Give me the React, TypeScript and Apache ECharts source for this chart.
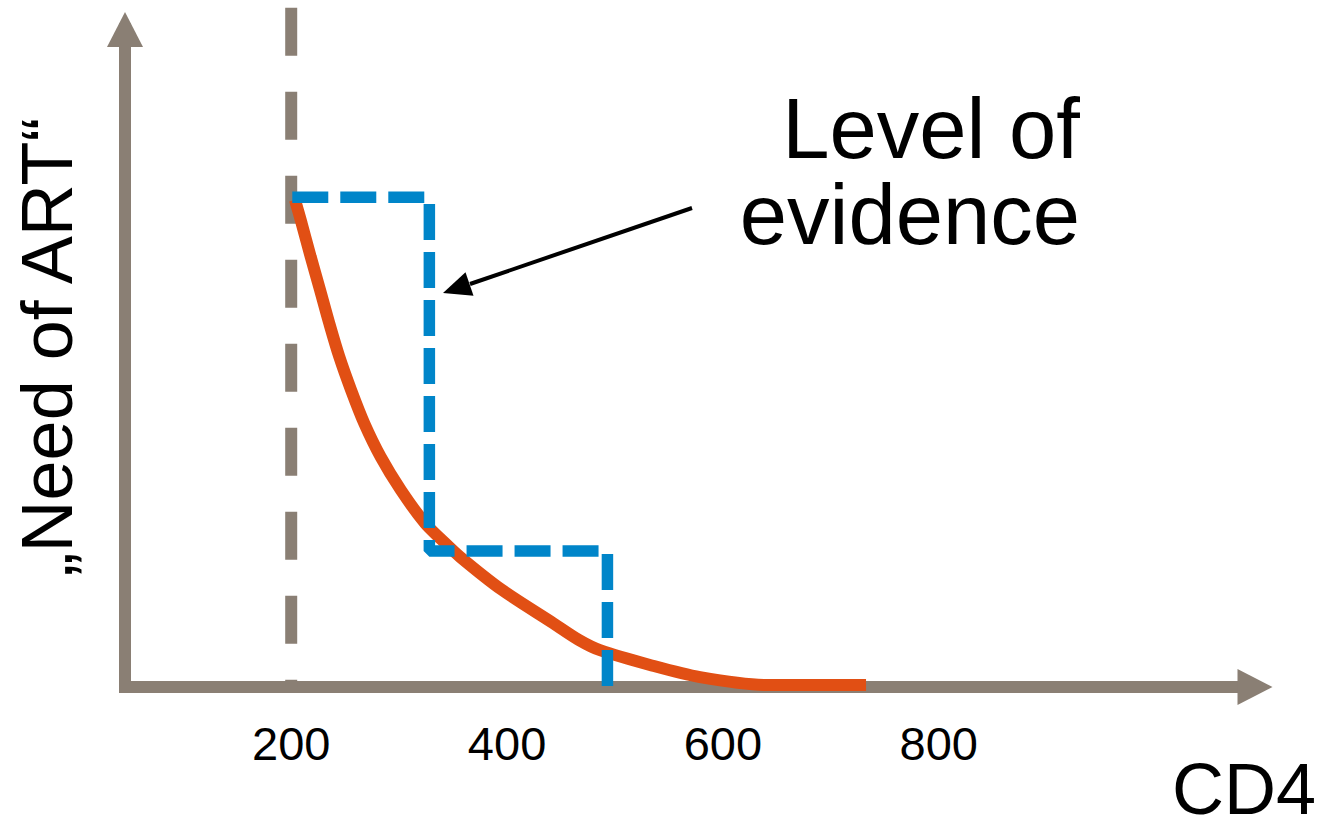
import React, { useEffect, useRef } from 'react';
import * as echarts from 'echarts';

// Tick labels on the CD4 axis
const xTickValues = [200, 400, 600, 800];

// "Need of ART" curve: [CD4, need]
const needCurve: [number, number][] = [
  [203.5, 74.1],
  [209.7, 70.5],
  [218.1, 65.4],
  [226.7, 60.4],
  [235.3, 55.3],
  [244.6, 50.2],
  [255.4, 45.2],
  [267.7, 40.1],
  [282.9, 35.0],
  [301.4, 30.0],
  [324.0, 24.9],
  [339.4, 22.4],
  [356.4, 19.8],
  [395.0, 14.8],
  [442.8, 9.7],
  [466.6, 7.15],
  [486.1, 5.6],
  [532.4, 3.35],
  [578.8, 1.5],
  [640.8, 0.3],
  [732.6, 0.3],
];

// Level of evidence step outline: [CD4, need]
const evidenceSteps: [number, number][] = [
  [201, 74.5],
  [328, 74.5],
  [328, 20.7],
  [493, 20.7],
  [493, 0],
];

// Threshold marker at CD4 = 200
const thresholdLine: [number, number][] = [
  [200, 103.3],
  [200, 0],
];

const xAxisTitle = 'CD4';
const yAxisTitle = '\u201ENeed of ART\u201C';
const annotationText = ['Level of', 'evidence'];

const GRAY = '#8a7f74';
const ORANGE = '#e14f14';
const BLUE = '#0085c9';
const FONT = "'Liberation Sans', Arial, Helvetica, sans-serif";

export default function App() {
  const ref = useRef<HTMLDivElement>(null);

  useEffect(() => {
    if (!ref.current) return;
    const chart = echarts.init(ref.current, null, { renderer: 'svg' });
    chart.setOption({
      animation: false,
      backgroundColor: '#ffffff',
      grid: { left: 125, right: 69, top: 29.5, bottom: 135, containLabel: false },
      xAxis: {
        type: 'value',
        min: 46,
        max: 1093,
        axisLine: {
          show: true,
          onZero: false,
          symbol: ['none', 'triangle'],
          symbolSize: [36, 35],
          lineStyle: { color: GRAY, width: 12, cap: 'square' },
        },
        axisTick: { show: false },
        splitLine: { show: false },
        axisLabel: {
          customValues: xTickValues,
          fontSize: 47,
          color: '#000',
          margin: 33,
          fontFamily: FONT,
        },
      },
      yAxis: {
        type: 'value',
        min: 0,
        max: 100,
        axisLine: {
          show: true,
          onZero: false,
          symbol: ['none', 'triangle'],
          symbolSize: [36, 35],
          lineStyle: { color: GRAY, width: 12, cap: 'square' },
        },
        axisTick: { show: false },
        axisLabel: { show: false },
        splitLine: { show: false },
      },
      series: [
        {
          type: 'line',
          data: thresholdLine,
          symbol: 'none',
          clip: false,
          silent: true,
          z: 1,
          lineStyle: { color: GRAY, width: 12, type: [48, 36] },
        },
        {
          type: 'line',
          data: needCurve,
          symbol: 'none',
          smooth: 0.3,
          silent: true,
          z: 3,
          lineStyle: { color: ORANGE, width: 12 },
        },
        {
          type: 'line',
          data: evidenceSteps,
          symbol: 'none',
          silent: true,
          z: 4,
          lineStyle: { color: BLUE, width: 11.5, type: [36, 12] },
        },
      ],
      graphic: [
        {
          type: 'text',
          x: 47,
          y: 347,
          rotation: Math.PI / 2,
          style: {
            text: yAxisTitle,
            fontSize: 72,
            fontFamily: FONT,
            fill: '#000',
            align: 'center',
            verticalAlign: 'middle',
          },
        },
        {
          type: 'text',
          x: 1316,
          y: 789,
          style: {
            text: xAxisTitle,
            fontSize: 72,
            lineHeight: 56,
            fontFamily: FONT,
            fill: '#000',
            align: 'right',
            verticalAlign: 'middle',
          },
        },
        {
          type: 'text',
          x: 1080,
          y: 171,
          style: {
            text: annotationText.join('\n'),
            fontSize: 85,
            lineHeight: 86,
            fontFamily: FONT,
            fill: '#000',
            align: 'right',
            verticalAlign: 'middle',
          },
        },
        {
          type: 'line',
          shape: { x1: 692, y1: 208, x2: 470, y2: 284 },
          style: { stroke: '#000', lineWidth: 4 },
        },
        {
          type: 'polygon',
          shape: { points: [[443, 293], [473.5, 295.8], [465.5, 272.2]] },
          style: { fill: '#000' },
        },
      ],
    });
    return () => chart.dispose();
  }, []);

  return (
    <div
      ref={ref}
      style={{ position: 'fixed', left: 0, top: 0, width: 1324, height: 822, background: '#fff' }}
    />
  );
}
